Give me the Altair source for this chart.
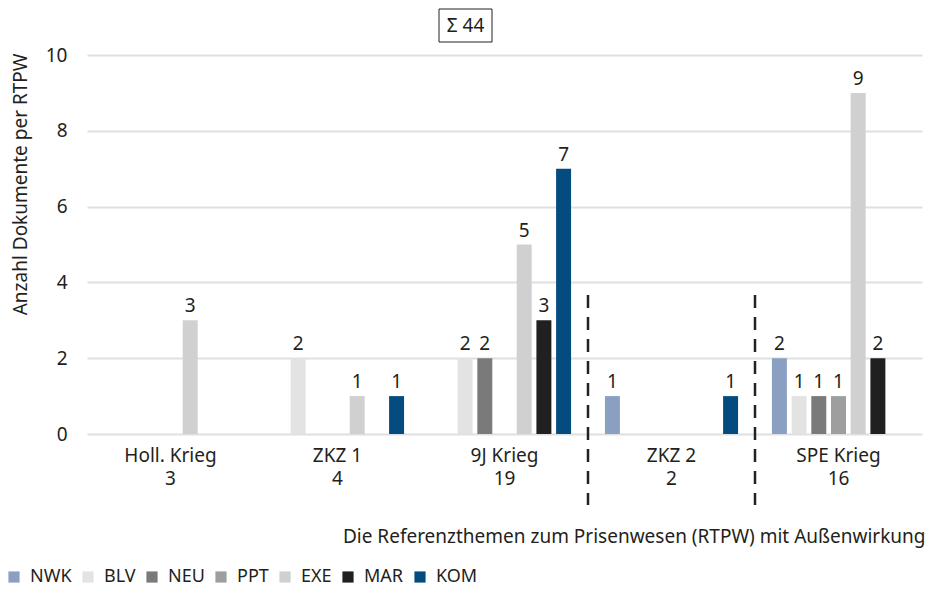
import altair as alt
import pandas as pd

categories = ["Holl. Krieg", "ZKZ 1", "9J Krieg", "ZKZ 2", "SPE Krieg"]
totals = [3, 4, 19, 2, 16]
series = ["NWK", "BLV", "NEU", "PPT", "EXE", "MAR", "KOM"]
colors = ["#8aa0c2", "#e3e3e3", "#7a7a7a", "#9e9e9e", "#d0d0d0", "#202020", "#044b7f"]

NWK = [0, 0, 0, 1, 2]
BLV = [0, 2, 2, 0, 1]
NEU = [0, 0, 2, 0, 1]
PPT = [0, 0, 0, 0, 1]
EXE = [3, 1, 5, 0, 9]
MAR = [0, 0, 3, 0, 2]
KOM = [0, 1, 7, 1, 0]
separators = ["ZKZ 2", "SPE Krieg"]

FONT = "Noto Sans"
TXT = "#231f20"
FS = 19

values = {"NWK": NWK, "BLV": BLV, "NEU": NEU, "PPT": PPT, "EXE": EXE, "MAR": MAR, "KOM": KOM}
labels = [f"{c}\n{t}" for c, t in zip(categories, totals)]
rows = []
for s in series:
    for lab, v in zip(labels, values[s]):
        if v > 0:
            rows.append({"cat": lab, "series": s, "value": v})
df = pd.DataFrame(rows)
sep_df = pd.DataFrame({"cat": [labels[categories.index(c)] for c in separators]})

xenc = alt.X("cat:N", sort=labels,
             scale=alt.Scale(domain=labels, paddingInner=0, paddingOuter=0),
             axis=alt.Axis(title="Die Referenzthemen zum Prisenwesen (RTPW)  mit Außenwirkung",
                           labelExpr="split(datum.label, '\\n')", labelAngle=0,
                           labelFontSize=FS, labelFont=FONT, labelColor=TXT,
                           labelLineHeight=23, labelPadding=12,
                           domain=False, ticks=False, grid=False,
                           titleFont=FONT, titleFontSize=FS, titleFontWeight="normal",
                           titleColor=TXT, titleAnchor="end", titleAlign="right",
                           titleX=838, titleY=108, titleBaseline="alphabetic"))
xoff = alt.XOffset("series:N", sort=series,
                   scale=alt.Scale(domain=series, paddingInner=0.24, paddingOuter=0.86))
yenc = alt.Y("value:Q", scale=alt.Scale(domain=[0, 10]),
             axis=alt.Axis(title="Anzahl Dokumente per RTPW", values=[0, 2, 4, 6, 8, 10],
                           labelFontSize=FS, labelFont=FONT, labelColor=TXT, labelPadding=20,
                           domain=False, ticks=False, gridColor="#e0e0e0", gridWidth=2,
                           titleFont=FONT, titleFontSize=FS, titleFontWeight="normal",
                           titleColor=TXT, titleAnchor="end", titleX=-67, titleY=-2,
                           titleBaseline="middle"))

bars = alt.Chart(df).mark_bar(opacity=1).encode(
    x=xenc, xOffset=xoff, y=yenc,
    color=alt.Color("series:N", sort=series,
                    scale=alt.Scale(domain=series, range=colors),
                    legend=alt.Legend(title=None, orient="none", legendX=-82, legendY=513,
                                      direction="horizontal", symbolType="square",
                                      symbolSize=125, symbolStrokeWidth=0, symbolOpacity=1,
                                      labelFont=FONT, labelFontSize=18, labelColor=TXT,
                                      labelOffset=7, columnPadding=7)),
)

texts = alt.Chart(df).mark_text(baseline="alphabetic", dy=-8, font=FONT, fontSize=FS,
                                color=TXT).encode(
    x=alt.X("cat:N", sort=labels), xOffset=alt.XOffset("series:N", sort=series),
    y="value:Q", text="value:Q",
)

rules = alt.Chart(sep_df).mark_rule(strokeDash=[13, 9], strokeWidth=2.5, color="#222222").encode(
    x=alt.X("cat:N", sort=labels, bandPosition=0),
    y=alt.value(240), y2=alt.value(450),
)

box = alt.Chart(df).transform_aggregate(total="sum(value)").mark_rect(
    fill="white", stroke="#222222", strokeWidth=1).encode(
    x=alt.value(352), x2=alt.value(405), y=alt.value(-46), y2=alt.value(-13),
)
sigma = alt.Chart(df).transform_aggregate(total="sum(value)").transform_calculate(
    label="'Σ ' + datum.total").mark_text(font=FONT, fontSize=FS, color=TXT,
                                          baseline="middle", align="center").encode(
    x=alt.value(378.5), y=alt.value(-29.5), text="label:N",
)

chart = alt.layer(bars, texts, rules, box, sigma).properties(
    width=835, height=379,
    autosize=alt.AutoSizeParams(type="none"),
    padding={"left": 79, "top": 47, "right": 4, "bottom": 153},
).configure_view(stroke=None)

chart.save("out.html", embed_options={"renderer": "svg", "actions": False})
